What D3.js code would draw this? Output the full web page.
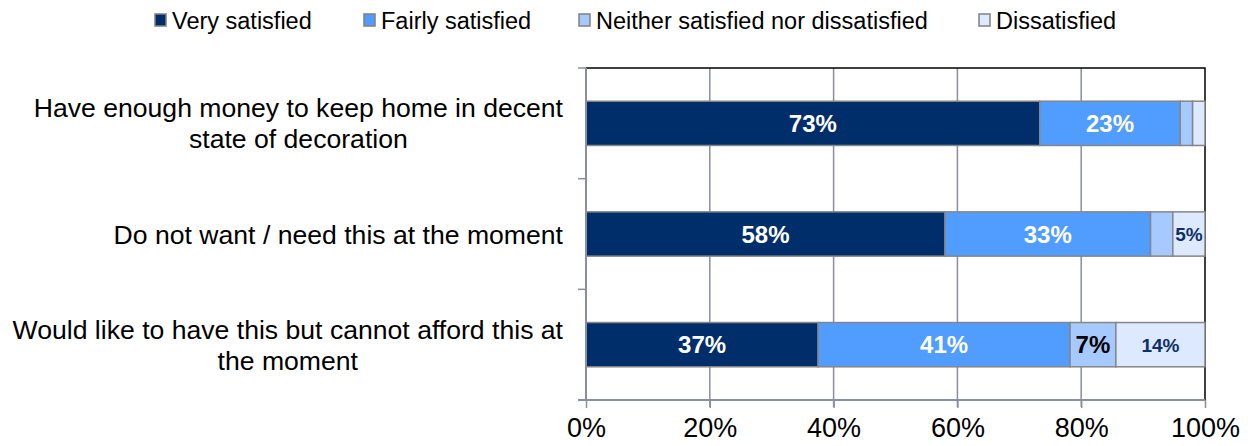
<html>
<head>
<meta charset="utf-8">
<style>
body { margin: 0; background: #fff; }
svg { font-family: "Liberation Sans", Arial, sans-serif; }
.grid line { stroke: #8a8e9f; stroke-width: 1.5; }
.bar { stroke: #868686; stroke-width: 1.5; }
</style>
</head>
<body>
<svg width="1248" height="446"></svg>
<script src="https://cdn.jsdelivr.net/npm/d3@7"></script>
<script>

// categories, each split into lines as in the picture
var categories = [
  ["Have enough money to keep home in decent", "state of decoration"],
  ["Do not want / need this at the moment"],
  ["Would like to have this but cannot afford this at", "the moment"]
];
var seriesNames = ["Very satisfied", "Fairly satisfied", "Neither satisfied nor dissatisfied", "Dissatisfied"];
var verySatisfied   = [73.3, 58.0, 37.5];
var fairlySatisfied = [22.7, 33.2, 40.7];
var neither         = [2.0, 3.6, 7.4];
var dissatisfied    = [2.0, 5.2, 14.4];
// printed labels ("" = no label)
var labels = [
  ["73%", "23%", "", ""],
  ["58%", "33%", "", "5%"],
  ["37%", "41%", "7%", "14%"]
];
var ticks = [0, 20, 40, 60, 80, 100];

var colors = ["#002e6b", "#519cff", "#a6caff", "#dde9ff"];
var labelColors = ["#fff", "#fff", "#000", "#0d2f6b"];

var svg = d3.select("svg");
var m = {left: 586, right: 1205, top: 68, bottom: 400};

var x = d3.scaleLinear().domain([0, 100]).range([m.left, m.right]);
var y = d3.scaleBand().domain(d3.range(categories.length)).range([m.top, m.bottom]).paddingInner(0.6).paddingOuter(0.3);

// build the stacked table
var table = categories.map(function(c, i) {
  return {i: i, values: [verySatisfied[i], fairlySatisfied[i], neither[i], dissatisfied[i]]};
});
var stack = d3.stack().keys([0, 1, 2, 3]).value(function(d, k) { return d.values[k]; });
var layers = stack(table);

// gridlines
svg.append("g").attr("class", "grid")
  .selectAll("line").data(ticks.slice(1, -1)).enter().append("line")
  .attr("x1", function(d) { return x(d); }).attr("x2", function(d) { return x(d); })
  .attr("y1", m.top).attr("y2", m.bottom + 7);

// top and right border
svg.append("path")
  .attr("d", "M" + m.left + "," + m.top + "H" + m.right + "V" + m.bottom)
  .attr("fill", "none").attr("stroke", "#000").attr("stroke-width", 1.5);

// bars
var layerG = svg.selectAll(".layer").data(layers).enter().append("g")
  .attr("class", "layer").attr("fill", function(d, k) { return colors[k]; });

layerG.selectAll("rect").data(function(d) { return d; }).enter().append("rect")
  .attr("class", "bar")
  .attr("x", function(d) { return x(d[0]); })
  .attr("width", function(d) { return x(d[1]) - x(d[0]); })
  .attr("y", function(d) { return y(d.data.i); })
  .attr("height", y.bandwidth());

// bar labels
layers.forEach(function(layer, k) {
  svg.append("g").selectAll("text").data(layer).enter().append("text")
    .attr("x", function(d) { return (x(d[0]) + x(d[1])) / 2; })
    .attr("y", function(d) { return y(d.data.i) + y.bandwidth() / 2; })
    .attr("dy", "0.36em")
    .attr("text-anchor", "middle")
    .attr("font-weight", "bold")
    .attr("font-size", function(d) { return (k === 3) ? 19 : 24; })
    .attr("fill", labelColors[k])
    .text(function(d) { return labels[d.data.i][k]; });
});

// x axis
var xAxis = svg.append("g")
  .attr("transform", "translate(0," + m.bottom + ")")
  .call(d3.axisBottom(x).tickValues(ticks).tickSize(8).tickFormat(function(d) { return d + "%"; }));
xAxis.select(".domain").attr("stroke", "#8a8e9f").attr("stroke-width", 2)
  .attr("d", "M" + (m.left - 8) + ",0H" + m.right);
xAxis.selectAll(".tick line").attr("stroke", "#8a8e9f").attr("stroke-width", 1.5);
xAxis.selectAll(".tick text").attr("font-size", 27).attr("fill", "#000").attr("dy", "0.95em")
  .attr("font-family", "Liberation Sans, Arial, sans-serif");

// y axis line + ticks between categories
var yEdges = [m.top, (y(0) + y.bandwidth() + y(1)) / 2, (y(1) + y.bandwidth() + y(2)) / 2, m.bottom];
svg.append("line").attr("x1", m.left).attr("x2", m.left).attr("y1", m.top).attr("y2", m.bottom)
  .attr("stroke", "#8a8e9f").attr("stroke-width", 2);
svg.append("g").selectAll("line").data(yEdges).enter().append("line")
  .attr("x1", m.left - 8).attr("x2", m.left)
  .attr("y1", function(d) { return d; }).attr("y2", function(d) { return d; })
  .attr("stroke", "#8a8e9f").attr("stroke-width", 1.5);

// category labels (multi-line blocks centered, right aligned)
categories.forEach(function(lines, i) {
  var cy = y(i) + y.bandwidth() / 2;
  var t = svg.append("text").attr("font-size", 26.6).attr("fill", "#000");
  var spans = t.selectAll("tspan").data(lines).enter().append("tspan")
    .attr("x", 0)
    .attr("y", function(d, j) { return cy + (j - (lines.length - 1) / 2) * 31; })
    .attr("dy", "0.36em")
    .attr("text-anchor", "middle")
    .text(function(d) { return d; });
  var w = d3.max(spans.nodes(), function(n) { return n.getComputedTextLength(); });
  spans.attr("x", 563 - w / 2);
});

// legend
var legendX = [155, 364, 579, 979];
var legend = svg.append("g").selectAll("g").data(seriesNames).enter().append("g")
  .attr("transform", function(d, k) { return "translate(" + legendX[k] + ",14)"; });
legend.append("rect").attr("width", 11).attr("height", 12)
  .attr("fill", function(d, k) { return colors[k]; })
  .attr("stroke", "#808080").attr("stroke-width", 1.5);
legend.append("text").attr("x", 17).attr("y", 7).attr("dy", "0.36em")
  .attr("font-size", 23.5).attr("fill", "#000")
  .text(function(d) { return d; });

</script>
</body>
</html>
